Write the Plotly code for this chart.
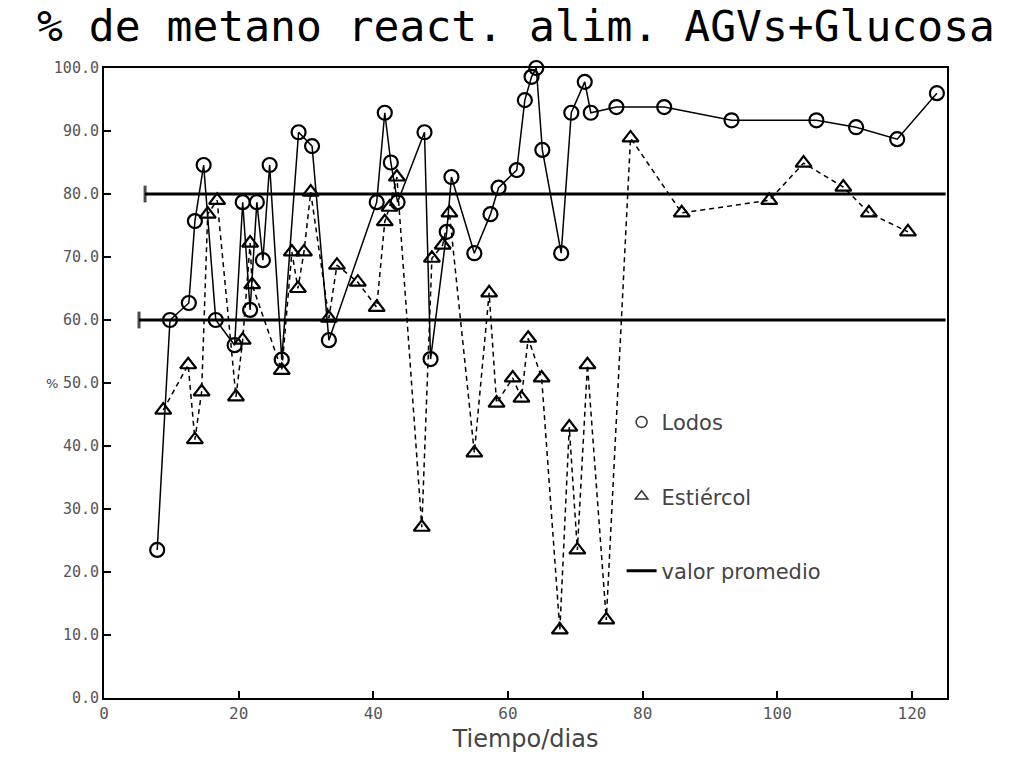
import plotly.graph_objects as go

# ---- data ----
lodos_x = [7.9, 9.8, 12.6, 13.5, 14.8, 16.6, 19.4, 20.6, 21.7, 22.7, 23.6, 24.6, 26.4, 28.9, 30.9,
           33.4, 40.5, 41.7, 42.6, 43.6, 47.6, 48.5, 50.9, 51.6, 55.0, 57.4, 58.6, 61.3, 62.5, 63.5,
           64.2, 65.1, 67.9, 69.4, 71.4, 72.3, 76.1, 83.2, 93.2, 105.8, 111.7, 117.8, 123.7]
lodos_y = [23.5, 60.0, 62.7, 75.7, 84.6, 60.0, 56.0, 78.7, 61.6, 78.7, 69.5, 84.6, 53.7, 89.8, 87.6,
           56.8, 78.7, 92.9, 85.0, 78.7, 89.8, 53.8, 74.0, 82.7, 70.6, 76.8, 81.0, 83.8, 94.9, 98.6,
           100.0, 87.0, 70.6, 92.9, 97.8, 92.9, 93.8, 93.8, 91.7, 91.7, 90.6, 88.7, 96.0]

estiercol_x = [8.8, 12.5, 13.5, 14.5, 15.4, 16.8, 19.6, 20.6, 21.7, 22.0, 26.4, 27.9, 28.8, 29.7, 30.7,
               33.4, 34.6, 37.7, 40.5, 41.7, 42.4, 43.5, 47.2, 48.7, 50.3, 51.3, 55.0, 57.2, 58.3, 60.7,
               62.0, 63.0, 65.0, 67.7, 69.1, 70.3, 71.8, 74.6, 78.2, 85.8, 98.8, 103.9, 109.8, 113.6, 119.4]
estiercol_y = [45.7, 52.9, 41.0, 48.6, 76.8, 79.0, 47.8, 56.8, 72.2, 65.6, 52.0, 70.8, 65.0, 70.8, 80.3,
               60.3, 68.7, 66.0, 62.0, 75.6, 77.9, 82.7, 27.1, 69.8, 71.9, 77.0, 38.9, 64.3, 46.8, 50.8,
               47.6, 57.1, 50.8, 10.8, 43.0, 23.5, 52.9, 12.4, 88.9, 77.0, 79.0, 84.9, 81.1, 77.0, 74.0]

prom_lodos_x = [6.1, 125.0]
prom_lodos_y = [80.0, 80.0]
prom_estiercol_x = [5.2, 125.0]
prom_estiercol_y = [60.0, 60.0]

x_ticks = [0, 20, 40, 60, 80, 100, 120]
y_ticks = [0, 10, 20, 30, 40, 50, 60, 70, 80, 90, 100]
y_tick_labels = ["0.0", "10.0", "20.0", "30.0", "40.0", "50.0", "60.0", "70.0", "80.0", "90.0", "100.0"]

title_text = "% de metano react. alim. AGVs+Glucosa"
legend_names = ["Lodos", "Estiércol", "valor promedio"]
y_label = "%"

fig = go.Figure()

# average lines
for xs, ys in [(prom_lodos_x, prom_lodos_y), (prom_estiercol_x, prom_estiercol_y)]:
    fig.add_trace(go.Scatter(
        x=xs, y=ys, mode="lines+markers", showlegend=False, cliponaxis=False,
        line=dict(color="black", width=3),
        marker=dict(symbol="line-ns-open", size=[12, 0], line=dict(color="black", width=3)),
        hoverinfo="skip"))

# Estiércol series
fig.add_trace(go.Scatter(
    x=estiercol_x, y=estiercol_y, mode="lines+markers", showlegend=False, cliponaxis=False,
    line=dict(color="black", width=1.5, dash="5px,4px"),
    marker=dict(symbol="triangle-up-open", size=14, color="black", line=dict(color="black", width=2.2))))

# Lodos series
fig.add_trace(go.Scatter(
    x=lodos_x, y=lodos_y, mode="lines+markers", showlegend=False, cliponaxis=False,
    line=dict(color="black", width=1.5),
    marker=dict(symbol="circle-open", size=14, color="black", line=dict(color="black", width=2.2))))

# legend entries
fig.add_trace(go.Scatter(x=[None], y=[None], mode="markers", name=legend_names[0], legendgroup="a",
                         marker=dict(symbol="circle-open", size=11, color="#333", line=dict(width=1.5))))
fig.add_trace(go.Scatter(x=[None], y=[None], mode="markers", name=legend_names[1], legendgroup="b",
                         marker=dict(symbol="triangle-up-open", size=11, color="#333", line=dict(width=1.5))))
fig.add_trace(go.Scatter(x=[None], y=[None], mode="lines", name=legend_names[2], legendgroup="c",
                         line=dict(color="black", width=3)))

fig.add_annotation(text=y_label, xref="paper", yref="y", x=-0.062, y=50, showarrow=False,
                   xanchor="center", yanchor="middle",
                   font=dict(family="DejaVu Sans", size=13, color="#444"))

fig.update_layout(
    width=1032, height=766,
    margin=dict(l=104, r=85, t=68, b=68),
    paper_bgcolor="white", plot_bgcolor="white",
    title=dict(text=title_text, x=0.5, xanchor="center", y=0.966, yanchor="middle",
               font=dict(family="DejaVu Sans Mono", size=43, color="black")),
    showlegend=True,
    legend=dict(x=0.614, y=0.47, xanchor="left", yanchor="top", bgcolor="rgba(0,0,0,0)",
                traceorder="grouped", tracegroupgap=44,
                font=dict(family="DejaVu Sans", size=21, color="#444")),
    xaxis=dict(range=[0, 125.2], tickvals=x_ticks, ticks="inside", ticklen=7, tickwidth=1.5,
               tickcolor="black", showline=True, linecolor="black", linewidth=2, mirror=True,
               showgrid=False, zeroline=False,
               tickfont=dict(family="DejaVu Sans Mono", size=16, color="#555"),
               title=dict(text="Tiempo/dias", font=dict(family="DejaVu Sans", size=24, color="#444"),
                          standoff=8)),
    yaxis=dict(range=[0, 100], tickvals=y_ticks, ticktext=y_tick_labels, ticks="inside", ticklen=7,
               tickwidth=1.5, tickcolor="black", showline=True, linecolor="black", linewidth=2,
               mirror=True, showgrid=False, zeroline=False,
               tickfont=dict(family="DejaVu Sans Mono", size=15, color="#555")),
)

fig.write_html("out.html")
